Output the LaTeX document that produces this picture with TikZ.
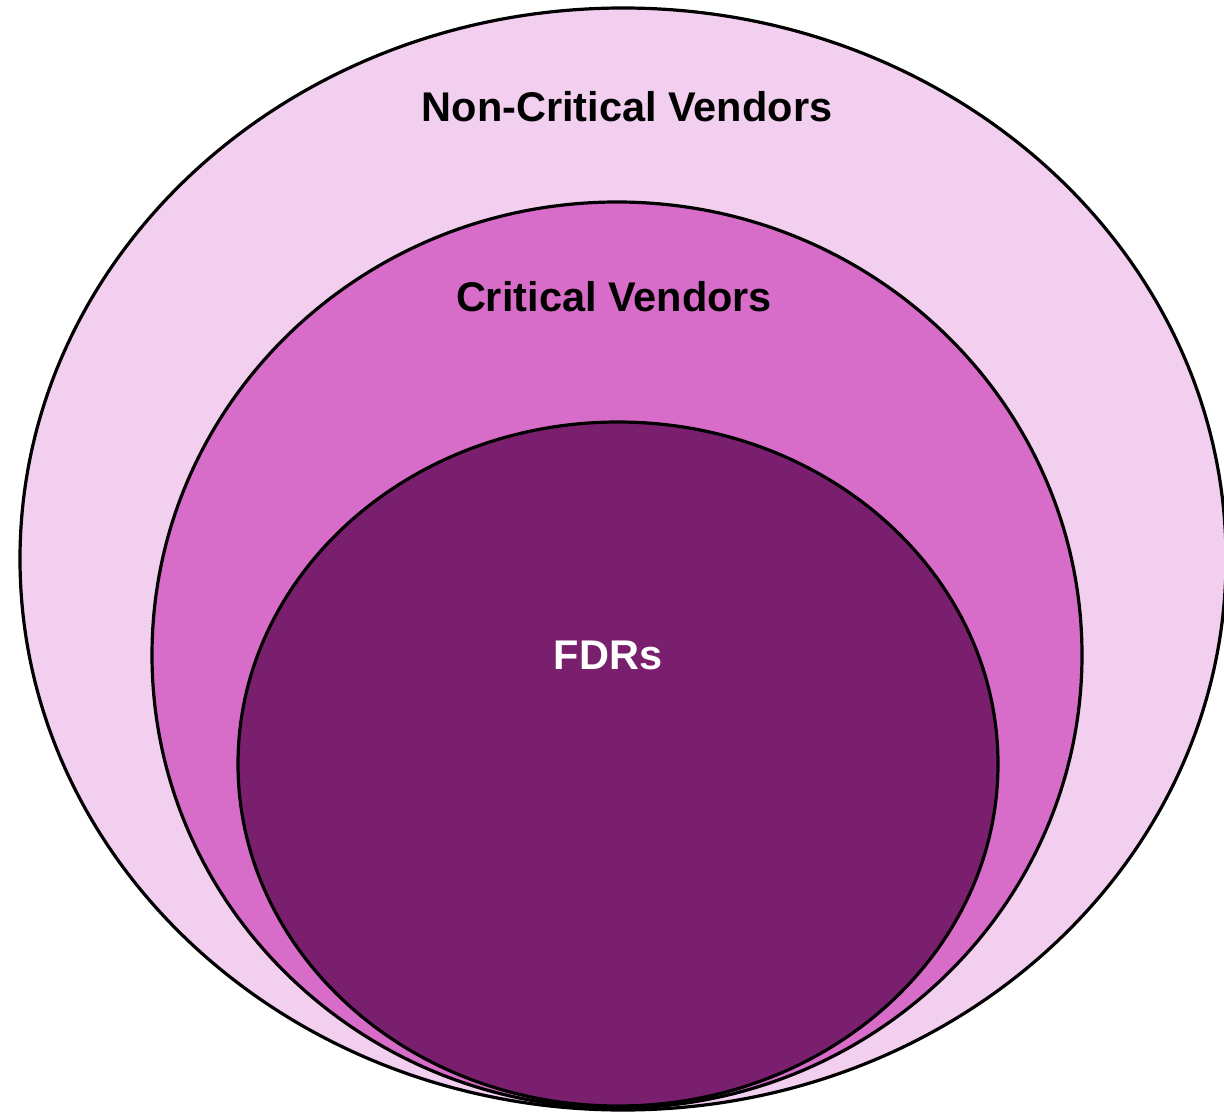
\documentclass[tikz,border=0pt]{standalone}
\usepackage{fontspec}
\setmainfont{Liberation Sans}
\usetikzlibrary{shapes.geometric}
\definecolor{outerpink}{HTML}{F2CEEF}
\definecolor{midpink}{HTML}{D76DC9}
\definecolor{innerpurple}{HTML}{7A1F6D}
\tikzset{
  ring/.style={ellipse, draw=black, line width=3.2pt, inner sep=0pt},
  lbl/.style={font=\fontsize{41.5}{48}\selectfont\bfseries, inner sep=0pt}
}
\begin{document}
\begin{tikzpicture}[x=1pt,y=-1pt]
\useasboundingbox (0,0) rectangle (1224,1113);
\node[ring, fill=outerpink, minimum width=1206pt, minimum height=1102pt] (outer) at (623,559) {};
\node[ring, fill=midpink, minimum width=930pt, minimum height=906pt] (middle) at (617,655) {};
\node[ring, fill=innerpurple, minimum width=760pt, minimum height=684pt] (inner) at (618,764) {};
\node[lbl, text=black] (noncrit) at (627,107) {Non-Critical Vendors};
\node[lbl, text=black] (crit) at (614,297) {Critical Vendors};
\node[lbl, text=white] (fdr) at (608,655) {FDRs};
\end{tikzpicture}
\end{document}
